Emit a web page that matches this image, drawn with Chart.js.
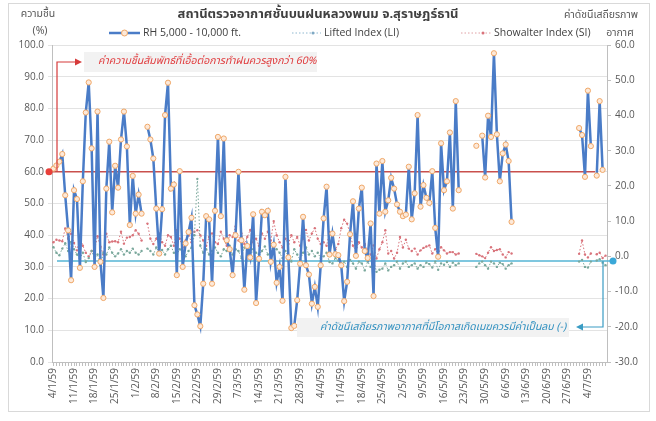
<!DOCTYPE html>
<html>
<head>
<meta charset="utf-8">
<script src="https://cdn.jsdelivr.net/npm/chart.js@4.4.0/dist/chart.umd.min.js"></script>
<style>
  body { margin: 0; background: #fff; }
</style>
</head>
<body>
<canvas id="chart" width="656" height="421"></canvas>
<script>
// daily categories, 4/1/59 .. 10/7/59 (Buddhist year 2559)
const firstDay = new Date(2016, 0, 4);
const dayCount = 189;
const days = [];
for (let i = 0; i < dayCount; i++) {
  const d = new Date(firstDay.getTime() + i * 86400000);
  days.push(d.getDate() + '/' + (d.getMonth() + 1) + '/59');
}

// weekly labels shown on the axis
const tickLabels = ['4/1/59', '11/1/59', '18/1/59', '25/1/59', '1/2/59', '8/2/59', '15/2/59',
  '22/2/59', '29/2/59', '7/3/59', '14/3/59', '21/3/59', '28/3/59', '4/4/59', '11/4/59',
  '18/4/59', '25/4/59', '2/5/59', '9/5/59', '16/5/59', '23/5/59', '30/5/59', '6/6/59',
  '13/6/59', '20/6/59', '27/6/59', '4/7/59'];

// RH 5,000 - 10,000 ft. (%)
const rh = [
  61.0, 62.0, 63.2, 65.6, 52.6, 41.5, 25.8,
  54.2, 51.4, 29.7, 57.0, 78.7, 88.2, 67.4,
  30.0, 79.0, 31.6, 20.2, 54.7, 69.5, 47.2,
  61.9, 55.0, 70.2, 79.0, 68.0, 43.2, 58.7,
  46.8, 52.8, 46.8, null, 74.2, 70.2, 64.2,
  48.4, 34.2, 48.2, 77.9, 88.1, 54.7, 56.0,
  27.4, 60.2, 30.0, 37.4, 41.0, 45.5, 17.9,
  15.0, 11.3, 24.7, 46.0, 45.0, 24.7, 47.7,
  71.0, 46.0, 70.5, 38.4, 35.6, 27.4, 40.0,
  60.0, 38.4, 22.8, 36.6, 33.0, 46.6, 18.6,
  32.6, 47.4, 46.3, 47.7, 31.6, 37.0, 25.0,
  30.0, 19.3, 58.4, 33.0, 10.7, 11.4, 19.5,
  31.0, 45.8, 30.5, 27.6, 18.4, 23.7, 17.4,
  30.5, 45.3, 55.3, 33.9, 40.5, 34.0, 33.7,
  30.5, 19.2, 25.3, 40.3, 50.7, 33.5, 48.4,
  55.0, 35.0, 32.8, 43.7, 20.8, 62.6, 46.8,
  63.4, 47.4, 51.0, 58.1, 54.7, 49.7, 47.4,
  46.0, 46.5, 61.6, 45.0, 53.2, 77.9, 49.0,
  55.8, 51.8, 50.2, 60.2, 42.3, 33.2, 69.0,
  54.2, 57.0, 72.4, 48.4, 82.3, 54.2, null,
  null, null, null, null, 68.2, null, 71.4,
  58.2, 77.7, 71.0, 97.4, 71.8, 57.0, 65.8,
  68.6, 63.4, 44.2, null, null, null, null,
  null, null, null, null, null, null, null,
  null, null, null, null, null, null, null,
  null, null, null, null, 73.8, 71.6, 58.4,
  85.6, 68.1, null, 58.8, 82.3, 60.6, null
];

// Lifted Index (LI)
const li = [
  2.6, 1.0, 0.3, 2.2, 3.7, 1.5, 4.1,
  2.0, 0.5, -0.6, 1.0, -1.6, -0.5, 1.5,
  -0.5, 0.5, -2.5, 1.0, 0.5, 2.5, 1.0,
  0.0, 0.8, 2.0, 0.5, 1.5, 1.0, 2.2,
  1.0, 0.5, 1.5, null, 2.2, 1.5, 0.5,
  2.5, 1.0, 1.8, 0.5, 2.0, 3.0, 1.0,
  0.5, 2.0, 1.2, 0.0, 1.5, 2.5, 6.0,
  22.0, 3.0, 1.0, 2.0, 0.5, 1.5, 2.5,
  1.0, 0.0, 2.0, 1.5, 3.0, 0.5, 2.0,
  1.5, -0.5, 2.5, 1.0, 0.0, 2.0, 1.0,
  0.5, 1.5, 2.8, 0.5, 1.0, 3.5, 2.0,
  1.0, -0.5, 1.5, 0.0, -1.5, 2.0, 0.5,
  -1.0, 1.0, 2.5, 0.5, 1.5, 0.0, 1.0,
  -0.5, 0.0, 1.0, -1.6, -2.0, -0.5, -1.2,
  -2.5, -1.5, -3.0, -1.0, -2.0, -3.5, -1.5,
  -2.0, -4.0, -1.5, -3.0, -1.0, -4.4, -3.8,
  -3.5, -2.0, -4.0, -3.0, -2.5, -1.5, -3.5,
  -2.0, -1.5, -3.0, -2.5, -2.0, -3.5, -2.5,
  -3.0, -1.8, -2.2, -3.2, -1.5, -3.8, -2.0,
  -2.4, -1.6, -3.0, -1.8, -2.5, -2.0, null,
  null, null, null, null, -3.0, -2.0, -1.5,
  -2.5, -3.5, -1.5, -2.0, -3.0, -1.8, -2.2,
  -3.5, -2.5, -2.0, null, null, null, null,
  null, null, null, null, null, null, null,
  null, null, null, null, null, null, null,
  null, null, null, null, -1.5, -1.0, -3.0,
  -3.2, -1.5, null, -1.2, -0.8, -1.8, -2.5
];

// Showalter Index (SI)
const si = [
  4.0, 4.7, 4.5, 4.3, 7.9, 5.0, 6.4,
  3.8, 1.7, 5.5, 3.0, 1.0, 0.0, 1.5,
  2.0, 5.7, 2.7, 0.5, 6.4, 4.0, 4.2,
  4.3, 4.0, 7.0, 3.6, 5.3, 5.5, 6.0,
  7.4, 6.4, 4.5, null, 9.3, 5.0, 3.5,
  5.0, 6.5, 4.0, 3.0, 6.0, 5.5, 3.0,
  7.4, 5.0, 2.5, 4.5, 6.0, 4.0, 7.0,
  7.4, 6.0, 4.5, 3.0, 5.5, 6.5, 4.0,
  3.5, 7.0, 5.0, 3.0, 6.0, 5.5, 8.5,
  4.5, 6.5, 3.5, 5.5, 7.5, 4.0, 5.0,
  3.0, 6.5, 5.0, 7.0, 4.5, 10.0, 6.0,
  4.0, 2.5, 5.0, 3.5, 6.0, 4.0, 5.5,
  3.0, 5.0, 7.5, 4.5, 6.5, 8.0, 5.0,
  3.5, 4.0, 3.0, 6.9, 4.5, 2.0, 3.5,
  8.0, 10.4, 9.3, 6.4, 3.0, 1.5, 4.0,
  2.5, 3.5, 1.7, 0.5, 3.1, -0.6, 2.0,
  4.0, 7.4, 0.8, 1.5, -0.6, 1.0, 5.5,
  2.5, 4.7, 2.2, 1.5, 2.2, 0.5, 1.7,
  2.4, 2.8, 3.1, 0.8, 2.0, 0.5, 2.6,
  1.7, 0.8, 1.2, 1.2, 0.5, 0.8, null,
  null, null, null, null, 0.7, 0.3, 0.0,
  -0.5, 1.0, 2.6, 1.5, 1.8, 2.0, 0.5,
  -0.3, 1.2, 0.8, null, null, null, null,
  null, null, null, null, null, null, null,
  null, null, null, null, null, null, null,
  null, null, null, null, 0.7, 4.5, 0.5,
  -0.3, 0.8, null, 0.6, 1.0, -0.5, 0.2
];

const rhThreshold = 60;     // left axis
const indexThreshold = -1.3; // right axis

const thaiFont = "'Noto Sans Thai', 'Leelawadee UI', Tahoma, 'Noto Sans', sans-serif";
const axisFont = "'Open Sans', 'Noto Sans', sans-serif";

const rhColor = '#4a7cc7';
const liColor = '#7aa89c';
const siColor = '#d9737b';
const redNote = '#d63a3a';
const blueNote = '#3a9cc4';

function arrowHead(ctx, x, y, dir, color) {
  ctx.fillStyle = color;
  ctx.beginPath();
  ctx.moveTo(x, y);
  ctx.lineTo(x - dir * 7, y - 3.5);
  ctx.lineTo(x - dir * 7, y + 3.5);
  ctx.closePath();
  ctx.fill();
}

const decorations = {
  id: 'decorations',
  beforeDraw(chart) {
    const ctx = chart.ctx;
    ctx.save();
    ctx.fillStyle = '#fff';
    ctx.fillRect(0, 0, chart.width, chart.height);
    ctx.strokeStyle = '#d9d9d9';
    ctx.lineWidth = 1;
    ctx.strokeRect(8.5, 3.5, 641, 408);
    ctx.restore();
  },
  beforeDatasetsDraw(chart) {
    const ctx = chart.ctx;
    const area = chart.chartArea;
    const yL = chart.scales.y.getPixelForValue(rhThreshold);
    const yR = chart.scales.y1.getPixelForValue(indexThreshold);
    ctx.save();
    // red threshold line
    ctx.strokeStyle = '#c9504d';
    ctx.lineWidth = 1.5;
    ctx.beginPath();
    ctx.moveTo(area.left - 3, yL);
    ctx.lineTo(area.right - 12, yL);
    ctx.stroke();
    // blue threshold line
    ctx.strokeStyle = '#55b4d4';
    ctx.beginPath();
    ctx.moveTo(area.left + 5, yR);
    ctx.lineTo(area.right + 6, yR);
    ctx.stroke();
    ctx.restore();
  },
  afterDraw(chart) {
    const ctx = chart.ctx;
    const area = chart.chartArea;
    const yL = chart.scales.y.getPixelForValue(rhThreshold);
    const yR = chart.scales.y1.getPixelForValue(indexThreshold);
    ctx.save();

    // red note
    ctx.strokeStyle = redNote;
    ctx.lineWidth = 1.2;
    ctx.beginPath();
    ctx.moveTo(area.left + 5, yL);
    ctx.lineTo(area.left + 5, 62);
    ctx.lineTo(area.left + 26, 62);
    ctx.stroke();
    arrowHead(ctx, area.left + 30, 62, 1, redNote);
    ctx.fillStyle = '#e8403a';
    ctx.beginPath();
    ctx.arc(area.left - 3, yL, 3.5, 0, Math.PI * 2);
    ctx.fill();
    ctx.fillStyle = '#f2f2f2';
    ctx.fillRect(84, 52, 233, 20);
    ctx.fillStyle = '#e03a3c';
    ctx.font = "italic 10.5px " + thaiFont;
    ctx.textBaseline = 'middle';
    ctx.textAlign = 'left';
    ctx.fillText('ค่าความชื้นสัมพัทธ์ที่เอื้อต่อการทำฝนควรสูงกว่า 60%', 98, 62);

    // blue note
    ctx.strokeStyle = blueNote;
    ctx.lineWidth = 1.2;
    ctx.beginPath();
    ctx.moveTo(area.right - 4, yR);
    ctx.lineTo(area.right - 4, 327);
    ctx.lineTo(area.right - 26, 327);
    ctx.stroke();
    arrowHead(ctx, area.right - 31, 327, -1, blueNote);
    ctx.fillStyle = '#3aa8d8';
    ctx.beginPath();
    ctx.arc(area.right + 6, yR, 3.5, 0, Math.PI * 2);
    ctx.fill();
    ctx.fillStyle = '#f2f2f2';
    ctx.fillRect(297, 318, 272, 19);
    ctx.fillStyle = '#2f8fbf';
    ctx.font = "italic 10.5px " + thaiFont;
    ctx.fillText('ค่าดัชนีเสถียรภาพอากาศที่มีโอกาสเกิดเมฆควรมีค่าเป็นลบ (-)', 320, 328);

    // title and axis titles
    ctx.fillStyle = '#404040';
    ctx.font = "bold 13px " + thaiFont;
    ctx.textAlign = 'center';
    ctx.fillText('สถานีตรวจอากาศชั้นบนฝนหลวงพนม จ.สุราษฎร์ธานี', 318, 15);
    ctx.fillStyle = '#595959';
    ctx.font = "10.5px " + thaiFont;
    ctx.fillText('ความชื้น', 38, 15);
    ctx.fillText('(%)', 40, 32);
    ctx.fillText('ค่าดัชนีเสถียรภาพ', 601, 16);
    ctx.fillText('อากาศ', 620, 34);

    // legend
    const ly = 33;
    ctx.lineWidth = 2.5;
    ctx.strokeStyle = rhColor;
    ctx.beginPath();
    ctx.moveTo(109, ly);
    ctx.lineTo(140, ly);
    ctx.stroke();
    ctx.fillStyle = '#fde9d9';
    ctx.strokeStyle = '#f0a868';
    ctx.lineWidth = 1;
    ctx.beginPath();
    ctx.arc(124.5, ly, 3, 0, Math.PI * 2);
    ctx.fill();
    ctx.stroke();

    ctx.setLineDash([1.5, 2]);
    ctx.lineWidth = 1;
    ctx.strokeStyle = '#8fb8d0';
    ctx.beginPath();
    ctx.moveTo(292, ly);
    ctx.lineTo(321, ly);
    ctx.stroke();
    ctx.strokeStyle = '#e0a0a4';
    ctx.beginPath();
    ctx.moveTo(461, ly);
    ctx.lineTo(491, ly);
    ctx.stroke();
    ctx.setLineDash([]);
    ctx.fillStyle = '#7fa9c4';
    ctx.beginPath();
    ctx.arc(313, ly, 1.5, 0, Math.PI * 2);
    ctx.fill();
    ctx.fillStyle = '#d9737b';
    ctx.beginPath();
    ctx.arc(483, ly, 1.5, 0, Math.PI * 2);
    ctx.fill();

    ctx.fillStyle = '#404040';
    ctx.font = "10.5px " + axisFont;
    ctx.textAlign = 'left';
    ctx.fillText('RH 5,000 - 10,000 ft.', 143, ly);
    ctx.fillText('Lifted Index (LI)', 324, ly);
    ctx.fillText('Showalter Index (SI)', 494, ly);
    ctx.restore();
  }
};

new Chart(document.getElementById('chart'), {
  type: 'line',
  data: {
    labels: days,
    datasets: [
      {
        label: 'RH 5,000 - 10,000 ft.',
        data: rh,
        yAxisID: 'y',
        borderColor: rhColor,
        borderWidth: 2.5,
        pointRadius: 2.6,
        pointBackgroundColor: '#fde9d9',
        pointBorderColor: '#f0a868',
        pointBorderWidth: 1,
        tension: 0,
        spanGaps: false
      },
      {
        label: 'Lifted Index (LI)',
        data: li,
        yAxisID: 'y1',
        borderColor: liColor,
        borderWidth: 1,
        borderDash: [1.5, 2],
        pointRadius: 1.2,
        pointBackgroundColor: liColor,
        pointBorderWidth: 0,
        tension: 0,
        spanGaps: false
      },
      {
        label: 'Showalter Index (SI)',
        data: si,
        yAxisID: 'y1',
        borderColor: siColor,
        borderWidth: 1,
        borderDash: [1.5, 2],
        pointRadius: 1.2,
        pointBackgroundColor: siColor,
        pointBorderWidth: 0,
        tension: 0,
        spanGaps: false
      }
    ]
  },
  options: {
    responsive: false,
    animation: false,
    layout: { padding: { left: 10, right: 12, top: 45, bottom: 10 } },
    plugins: { legend: { display: false }, title: { display: false }, tooltip: { enabled: false } },
    scales: {
      x: {
        type: 'category',
        offset: true,
        grid: { drawOnChartArea: false, drawTicks: true, tickLength: 4, color: '#bfbfbf' },
        border: { color: '#bfbfbf' },
        ticks: {
          autoSkip: false,
          minRotation: 90,
          maxRotation: 90,
          padding: 2,
          color: '#595959',
          font: { family: axisFont, size: 10 },
          callback: function (value) {
            const lab = this.getLabelForValue(value);
            return tickLabels.includes(lab) ? lab : '';
          }
        },
        afterFit: s => { s.height = 49; }
      },
      y: {
        position: 'left',
        min: 0,
        max: 100,
        grid: { color: '#e3e3e3', tickLength: 4 },
        border: { color: '#bfbfbf' },
        ticks: {
          stepSize: 10,
          padding: 4,
          color: '#595959',
          font: { family: axisFont, size: 10 },
          callback: v => v.toFixed(1)
        },
        afterFit: s => { s.width = 42; }
      },
      y1: {
        position: 'right',
        min: -30,
        max: 60,
        grid: { drawOnChartArea: false, tickLength: 4, color: '#bfbfbf' },
        border: { color: '#bfbfbf' },
        ticks: {
          stepSize: 10,
          padding: 4,
          color: '#595959',
          font: { family: axisFont, size: 10 },
          callback: v => v.toFixed(1)
        },
        afterFit: s => { s.width = 37; }
      }
    }
  },
  plugins: [decorations]
});
</script>
</body>
</html>
